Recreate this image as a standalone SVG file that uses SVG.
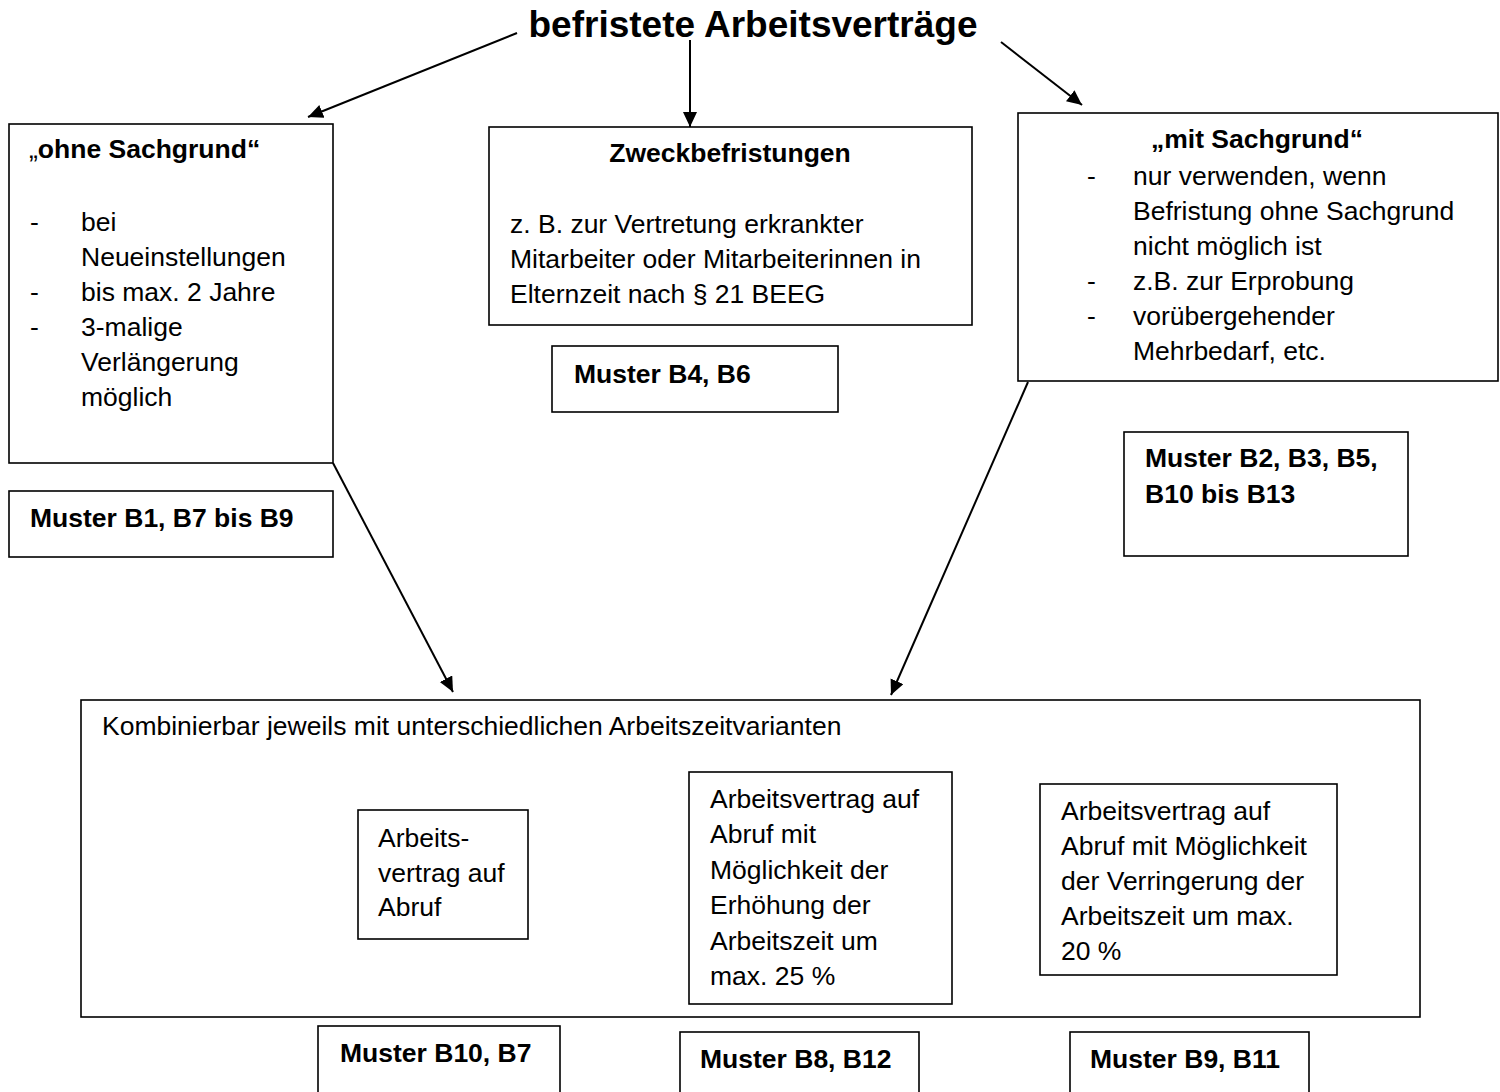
<svg xmlns="http://www.w3.org/2000/svg" width="1500" height="1092" viewBox="0 0 1500 1092">
<defs>
<marker id="ah" markerUnits="userSpaceOnUse" markerWidth="16" markerHeight="15" refX="15" refY="7" orient="auto">
<path d="M0,0 L15,7 L0,14 z" fill="#000"/>
</marker>
<style>
.box{fill:#fff;stroke:#000;stroke-width:1.6}
.t{font-family:"Liberation Sans",Arial,sans-serif;font-size:26.5px;fill:#000}
.b{font-weight:bold}
.n{font-weight:normal}
.c{stroke:#000;stroke-width:2;fill:none}
</style>
</defs>
<rect width="1500" height="1092" fill="#fff"/>
<g id="title">
<text class="t b" x="753" y="37" text-anchor="middle" style="font-size:37px">befristete Arbeitsverträge</text>
</g>
<g id="connectors">
<line class="c" x1="517" y1="33" x2="308" y2="117" marker-end="url(#ah)"/>
<line class="c" x1="690" y1="40" x2="690" y2="127" marker-end="url(#ah)"/>
<line class="c" x1="1001" y1="42" x2="1082" y2="105" marker-end="url(#ah)"/>
<line class="c" x1="333" y1="463" x2="453" y2="692" marker-end="url(#ah)"/>
<line class="c" x1="1028" y1="382" x2="891" y2="695" marker-end="url(#ah)"/>
</g>
<g id="ohne">
<rect class="box" x="9" y="124" width="324" height="339"/>
<text class="t b" x="29" y="158"><tspan class="n">„</tspan>ohne Sachgrund“</text>
<text class="t" x="30" y="231">-</text>
<text class="t" x="81" y="231">bei</text>
<text class="t" x="81" y="266">Neueinstellungen</text>
<text class="t" x="30" y="301">-</text>
<text class="t" x="81" y="301">bis max. 2 Jahre</text>
<text class="t" x="30" y="336">-</text>
<text class="t" x="81" y="336">3-malige</text>
<text class="t" x="81" y="371">Verlängerung</text>
<text class="t" x="81" y="406">möglich</text>
</g>
<g id="muster-b1">
<rect class="box" x="9" y="491" width="324" height="66"/>
<text class="t b" x="30" y="527">Muster B1, B7 bis B9</text>
</g>
<g id="zweck">
<rect class="box" x="489" y="127" width="483" height="198"/>
<text class="t b" x="730" y="162" text-anchor="middle">Zweckbefristungen</text>
<text class="t" x="510" y="233">z. B. zur Vertretung erkrankter</text>
<text class="t" x="510" y="268">Mitarbeiter oder Mitarbeiterinnen in</text>
<text class="t" x="510" y="303">Elternzeit nach § 21 BEEG</text>
</g>
<g id="muster-b4">
<rect class="box" x="552" y="346" width="286" height="66"/>
<text class="t b" x="574" y="383">Muster B4, B6</text>
</g>
<g id="mit">
<rect class="box" x="1018" y="113" width="480" height="268"/>
<text class="t b" x="1257" y="148" text-anchor="middle">„mit Sachgrund“</text>
<text class="t" x="1087" y="185">-</text>
<text class="t" x="1133" y="185">nur verwenden, wenn</text>
<text class="t" x="1133" y="220">Befristung ohne Sachgrund</text>
<text class="t" x="1133" y="255">nicht möglich ist</text>
<text class="t" x="1087" y="290">-</text>
<text class="t" x="1133" y="290">z.B. zur Erprobung</text>
<text class="t" x="1087" y="325">-</text>
<text class="t" x="1133" y="325">vorübergehender</text>
<text class="t" x="1133" y="360">Mehrbedarf, etc.</text>
</g>
<g id="muster-b2">
<rect class="box" x="1124" y="432" width="284" height="124"/>
<text class="t b" x="1145" y="467">Muster B2, B3, B5,</text>
<text class="t b" x="1145" y="503">B10 bis B13</text>
</g>
<g id="kombi">
<rect class="box" x="81" y="700" width="1339" height="317"/>
<text class="t" x="102" y="735">Kombinierbar jeweils mit unterschiedlichen Arbeitszeitvarianten</text>
</g>
<g id="abruf">
<rect class="box" x="358" y="810" width="170" height="129"/>
<text class="t" x="378" y="847">Arbeits-</text>
<text class="t" x="378" y="882">vertrag auf</text>
<text class="t" x="378" y="916">Abruf</text>
</g>
<g id="abruf-erh">
<rect class="box" x="689" y="772" width="263" height="232"/>
<text class="t" x="710" y="808">Arbeitsvertrag auf</text>
<text class="t" x="710" y="843">Abruf mit</text>
<text class="t" x="710" y="879">Möglichkeit der</text>
<text class="t" x="710" y="914">Erhöhung der</text>
<text class="t" x="710" y="950">Arbeitszeit um</text>
<text class="t" x="710" y="985">max. 25 %</text>
</g>
<g id="abruf-ver">
<rect class="box" x="1040" y="784" width="297" height="191"/>
<text class="t" x="1061" y="820">Arbeitsvertrag auf</text>
<text class="t" x="1061" y="855">Abruf mit Möglichkeit</text>
<text class="t" x="1061" y="890">der Verringerung der</text>
<text class="t" x="1061" y="925">Arbeitszeit um max.</text>
<text class="t" x="1061" y="960">20 %</text>
</g>
<g id="muster-b10">
<rect class="box" x="318" y="1026" width="242" height="100"/>
<text class="t b" x="340" y="1062">Muster B10, B7</text>
</g>
<g id="muster-b8">
<rect class="box" x="680" y="1032" width="239" height="100"/>
<text class="t b" x="700" y="1068">Muster B8, B12</text>
</g>
<g id="muster-b9">
<rect class="box" x="1070" y="1032" width="239" height="100"/>
<text class="t b" x="1090" y="1068">Muster B9, B11</text>
</g>
</svg>
